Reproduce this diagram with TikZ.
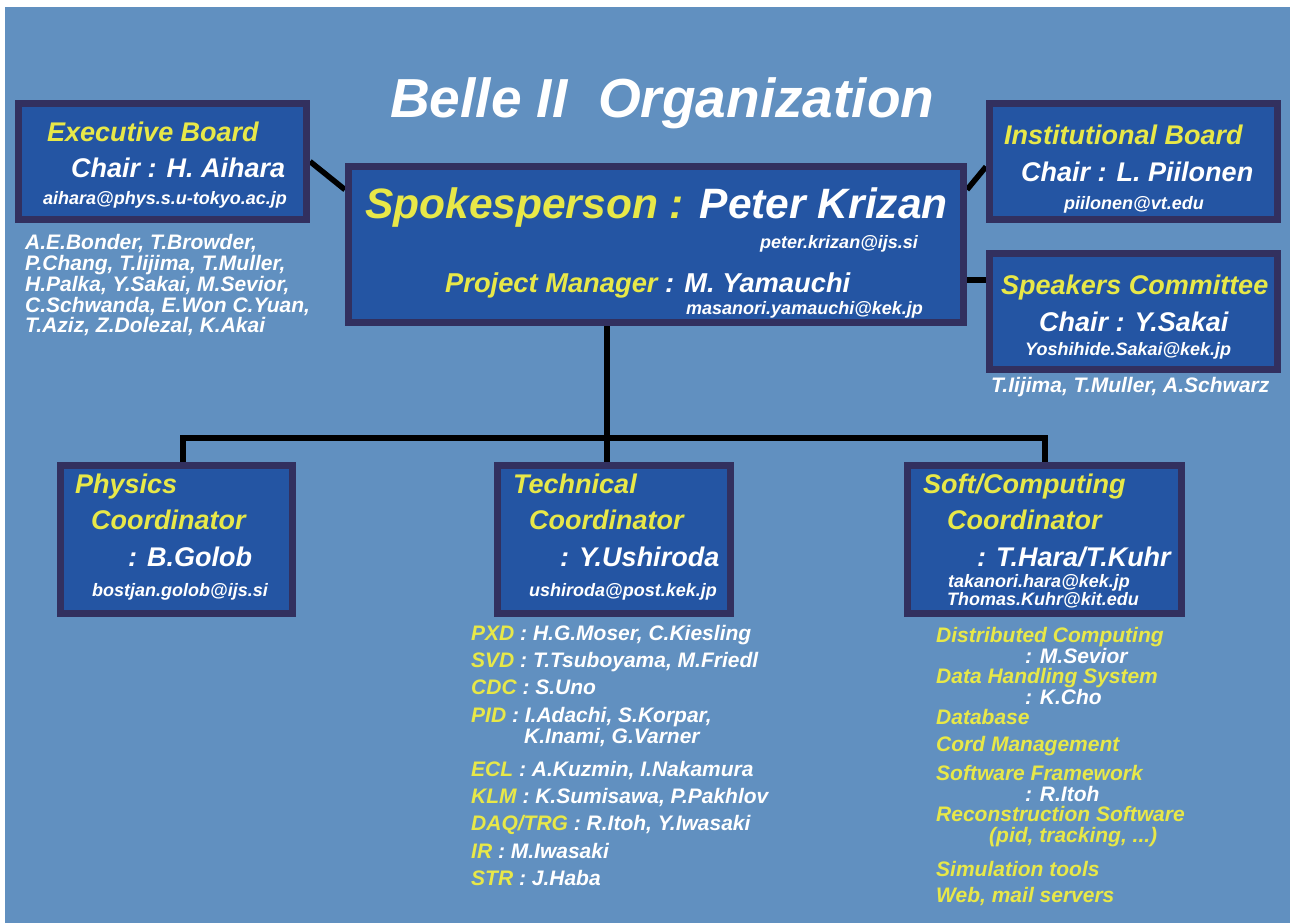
\documentclass[tikz,border=0pt]{standalone}
\usepackage{fontspec}
\setmainfont{Liberation Sans}
\pgfdeclarelayer{background}
\pgfsetlayers{background,main}
\definecolor{bgblue}{RGB}{97,144,192}
\definecolor{boxblue}{RGB}{36,85,163}
\definecolor{boxedge}{RGB}{50,48,95}
\definecolor{hiyellow}{RGB}{232,232,72}

\begin{document}
\begin{tikzpicture}[x=1pt, y=-1pt,
    orgbox/.style={draw=boxedge, fill=boxblue, line width=7pt, inner sep=0pt},
    link/.style={draw=black, line width=5.5pt},
    lbl/.style={inner sep=0pt, anchor=base west, text=white},
    head/.style={lbl, text=hiyellow, font=\fontsize{27}{30}\selectfont\bfseries\itshape},
    chair/.style={lbl, font=\fontsize{27}{30}\selectfont\bfseries\itshape},
    mail/.style={lbl, font=\fontsize{18}{20}\selectfont\bfseries\itshape},
    names/.style={lbl, font=\fontsize{21}{21}\selectfont\bfseries\itshape}]
  \useasboundingbox (0,0) rectangle (1290,923);
  \begin{pgfonlayer}{background}
    \fill[white] (0,0) rectangle (1290,923);
    \fill[bgblue] (5,7) rectangle (1290,923);
  \end{pgfonlayer}

  \node[lbl, font=\fontsize{55}{60}\selectfont\bfseries\itshape] (title) at (390,118) {Belle II\ \ Organization};

  % boxes
  \node[orgbox, minimum width=288pt, minimum height=116pt] (exec) at (162.5,161.5) {};
  \node[orgbox, minimum width=615pt, minimum height=156pt] (spokes) at (656,244.5) {};
  \node[orgbox, minimum width=288pt, minimum height=116pt] (inst) at (1133.5,161.5) {};
  \node[orgbox, minimum width=288pt, minimum height=116pt] (spk) at (1133.5,311.5) {};
  \node[orgbox, minimum width=232pt, minimum height=148pt] (phys) at (176.5,539.5) {};
  \node[orgbox, minimum width=233pt, minimum height=148pt] (tech) at (614,539.5) {};
  \node[orgbox, minimum width=274pt, minimum height=148pt] (soft) at (1044.5,539.5) {};

  % links
  \begin{pgfonlayer}{background}
    \draw[link] (exec.east) -- (spokes.170.6);
    \draw[link] (spokes.10) -- (inst.182);
    \draw[link] (spokes.east |- spk.168) -- (spk.168);
    \coordinate (busL) at (183,438);
    \coordinate (busM) at (607,438);
    \coordinate (busR) at (1045,438);
    \draw[link] (busM |- spokes.south) -- (busM |- tech.north);
    \draw[link] (busL |- phys.north) -- (busL) -- (busR) -- (busR |- soft.north);
  \end{pgfonlayer}

  % executive board
  \node[head] (exechead) at (47,141.7) {Executive Board};
  \node[chair] (execchair) at (71,177) {Chair : H. Aihara};
  \node[mail] (execmail) at (43,204) {aihara@phys.s.u-tokyo.ac.jp};
  \foreach \y/\t [count=\i] in {249/{A.E.Bonder, T.Browder,}, 270/{P.Chang, T.Iijima, T.Muller,},
      291/{H.Palka, Y.Sakai, M.Sevior,}, 312/{C.Schwanda, E.Won C.Yuan,}, 332/{T.Aziz, Z.Dolezal, K.Akai}}
    \node[names] (eb\i) at (25,\y) {\t};

  % spokesperson
  \node[lbl, font=\fontsize{42.5}{46}\selectfont\bfseries\itshape] (spokeshead) at (365,218)
    {{\color{hiyellow}Spokesperson :} Peter Krizan};
  \node[mail] (spokesmail) at (760,248) {peter.krizan@ijs.si};
  \node[lbl, font=\fontsize{27.3}{30}\selectfont\bfseries\itshape] (pm) at (445,292)
    {{\color{hiyellow}Project Manager} : M. Yamauchi};
  \node[mail] (pmmail) at (686,314) {masanori.yamauchi@kek.jp};

  % institutional board, speakers committee
  \node[head] (insthead) at (1004,145) {Institutional Board};
  \node[chair] (instchair) at (1021,181) {Chair : L. Piilonen};
  \node[mail] (instmail) at (1064,209) {piilonen@vt.edu};
  \node[head] (spkhead) at (1001,294) {Speakers Committee};
  \node[chair] (spkchair) at (1039,331) {Chair : Y.Sakai};
  \node[mail] (spkmail) at (1025,355) {Yoshihide.Sakai@kek.jp};
  \node[names] (spkmembers) at (991,392) {T.Iijima, T.Muller, A.Schwarz};

  % coordinators
  \node[head] (physhead) at (75,493) {Physics};
  \node[head] (physcoord) at (91,529) {Coordinator};
  \node[chair] (physchair) at (128,566) {: B.Golob};
  \node[mail] (physmail) at (92,596) {bostjan.golob@ijs.si};

  \node[head] (techhead) at (513,493) {Technical};
  \node[head] (techcoord) at (529,529) {Coordinator};
  \node[chair] (techchair) at (560,566) {: Y.Ushiroda};
  \node[mail] (techmail) at (529,596) {ushiroda@post.kek.jp};

  \node[head] (softhead) at (923,493) {Soft/Computing};
  \node[head] (softcoord) at (947,529) {Coordinator};
  \node[chair] (softchair) at (977,566) {: T.Hara/T.Kuhr};
  \node[mail] (softmail) at (948,587) {takanori.hara@kek.jp};
  \node[mail] (softmailb) at (947,605) {Thomas.Kuhr@kit.edu};

  % detector groups
  \foreach \y/\k/\v [count=\i] in {640/PXD/{H.G.Moser, C.Kiesling}, 667/SVD/{T.Tsuboyama, M.Friedl},
      694/CDC/{S.Uno}, 722/PID/{I.Adachi, S.Korpar,}, 776/ECL/{A.Kuzmin, I.Nakamura},
      803/KLM/{K.Sumisawa, P.Pakhlov}, 830/{DAQ/TRG}/{R.Itoh, Y.Iwasaki}, 858/IR/{M.Iwasaki}, 885/STR/{J.Haba}}
    \node[names] (det\i) at (471,\y) {{\color{hiyellow}\k} : \v};
  \node[names] (detpid) at (524,743) {K.Inami, G.Varner};

  % computing tasks
  \foreach \y/\t [count=\i] in {642/{Distributed Computing}, 683/{Data Handling System}, 724/{Database},
      751/{Cord Management}, 780/{Software Framework}, 821/{Reconstruction Software},
      876/{Simulation tools}, 902/{Web, mail servers}}
    \node[names, text=hiyellow] (task\i) at (936,\y) {\t};
  \node[names, text=hiyellow] (recoinfo) at (989,842) {(pid, tracking, ...)};
  \foreach \y/\t [count=\i] in {663/M.Sevior, 704/K.Cho, 801/R.Itoh}
    \node[names] (lead\i) at (1025,\y) {: \t};
\end{tikzpicture}
\end{document}
